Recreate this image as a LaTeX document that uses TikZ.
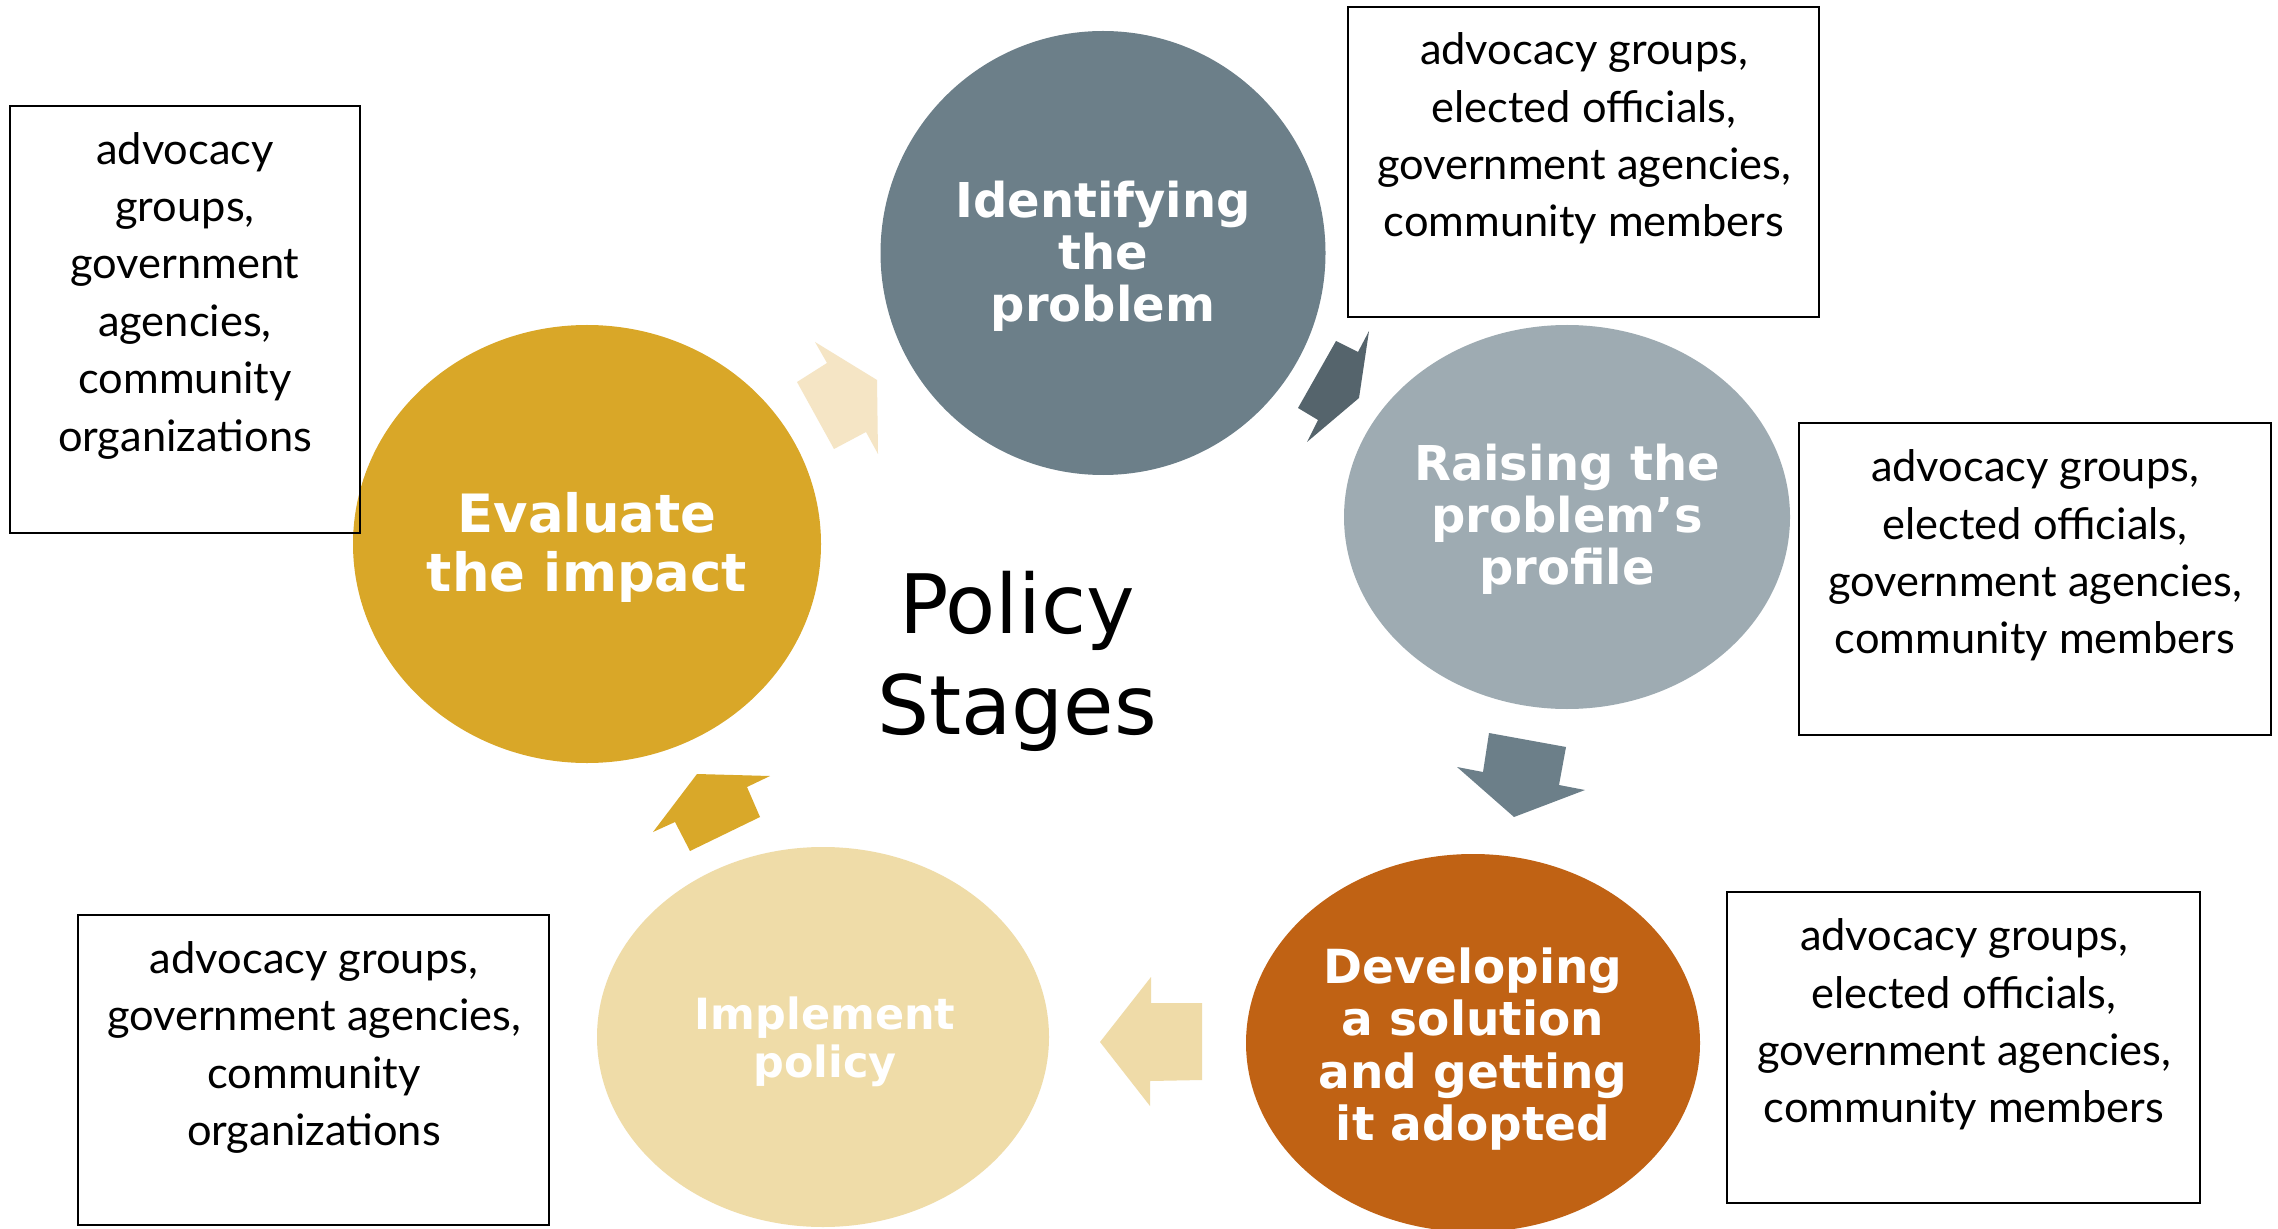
\documentclass[tikz,border=0pt]{standalone}
\usepackage{fontspec}
\setmainfont{Lato}
\newfontfamily\verd{DejaVu Sans}
\usetikzlibrary{shapes.geometric}
\definecolor{cIdent}{HTML}{6C7F89}
\definecolor{cRaise}{HTML}{9EABB2}
\definecolor{cEval}{HTML}{D9A728}
\definecolor{cImpl}{HTML}{EFDCA8}
\definecolor{cDev}{HTML}{C06214}
\definecolor{aOne}{HTML}{F5E5C5}
\definecolor{aTwo}{HTML}{55646C}
\definecolor{aThree}{HTML}{6C7F89}
\definecolor{aFour}{HTML}{EFDBA8}
\definecolor{aFive}{HTML}{D9A829}
\begin{document}
\begin{tikzpicture}[x=0.5pt,y=-0.5pt,
  stage/.style={ellipse, inner sep=0pt},
  stagetext/.style={inner sep=0pt, text=white, align=center,
    font=\verd\bfseries\fontsize{24}{26}\selectfont},
  infobox/.style={draw=black, line width=1.2pt, inner sep=0pt},
  infotext/.style={align=center, inner sep=0pt,
    font=\fontsize{21.7}{28.7}\selectfont}]
\useasboundingbox (0,0) rectangle (2278,1229);
\fill[white] (0,0) rectangle (2278,1229);

% block arrows
\fill[aOne] (815,342) -- (827,363) -- (797,382) -- (834,449) -- (866,432) -- (878,454) -- (877,380) -- cycle;
\fill[aTwo] (1369,331) -- (1358,352) -- (1336,341) -- (1298,408) -- (1318,420) -- (1307,442) -- (1359,398) -- cycle;
\fill[aThree] (1489,733) -- (1483,772) -- (1457,767) -- (1514,817) -- (1585,790) -- (1559,785) -- (1566,747) -- cycle;
\fill[aFour] (1151,977) -- (1100,1042) -- (1150,1106) -- (1150,1081) -- (1202,1080) -- (1202,1003) -- (1151,1003) -- cycle;
\fill[aFive] (697,774) -- (770,776) -- (747,787) -- (760,817) -- (690,851) -- (675,822) -- (653,832) -- cycle;

% stage circles
\node[stage, fill=cIdent, minimum width=222.5pt, minimum height=222pt] (id) at (1103,253) {};
\node[stage, fill=cRaise, minimum width=223pt, minimum height=192pt] (rs) at (1567,517) {};
\node[stage, fill=cDev, minimum width=227pt, minimum height=189pt] (dv) at (1473,1043) {};
\node[stage, fill=cImpl, minimum width=226pt, minimum height=190pt] (im) at (823,1037) {};
\node[stage, fill=cEval, minimum width=234pt, minimum height=219pt] (ev) at (587,544) {};

% stage labels
\node[stagetext] (idt) at (1103,256) {Identifying\\the\\problem};
\node[stagetext] (rst) at (1567,519) {Raising the\\problem’s\\profile};
\node[stagetext, font=\verd\bfseries\fontsize{23.5}{26.1}\selectfont] (dvt) at (1473,1049) {Developing\\a solution\\and getting\\it adopted};
\node[stagetext, font=\verd\bfseries\fontsize{21.5}{24}\selectfont] (imt) at (825,1041.5) {Implement\\policy};
\node[stagetext, font=\verd\bfseries\fontsize{26.4}{29.5}\selectfont] (evt) at (587,547.5) {Evaluate\\the impact};

% centre title
\node[align=center, inner sep=0pt, font=\verd\fontsize{41}{50.5}\selectfont] (title) at (1017,661.5) {Policy\\Stages};

% information boxes
\node[infobox, minimum width=235.5pt, minimum height=155pt] (b1) at (1583.5,162) {};
\node[infotext] (t1) at (1584,138.5) {advocacy groups,\\elected officials,\\government agencies,\\community members};
\node[infobox, minimum width=175pt, minimum height=213.5pt] (b2) at (185,319.5) {};
\node[infotext] (t2) at (185,295.5) {advocacy\\groups,\\government\\agencies,\\community\\organizations};
\node[infobox, minimum width=236pt, minimum height=156pt] (b3) at (2035,579) {};
\node[infotext] (t3) at (2035,555.5) {advocacy groups,\\elected officials,\\government agencies,\\community members};
\node[infobox, minimum width=235.5pt, minimum height=155pt] (b4) at (313.5,1070) {};
\node[infotext] (t4) at (314,1047.5) {advocacy groups,\\government agencies,\\community\\organizations};
\node[infobox, minimum width=236.5pt, minimum height=155.5pt] (b5) at (1963.5,1047.5) {};
\node[infotext] (t5) at (1964,1024.5) {advocacy groups,\\elected officials,\\government agencies,\\community members};
\end{tikzpicture}
\end{document}
